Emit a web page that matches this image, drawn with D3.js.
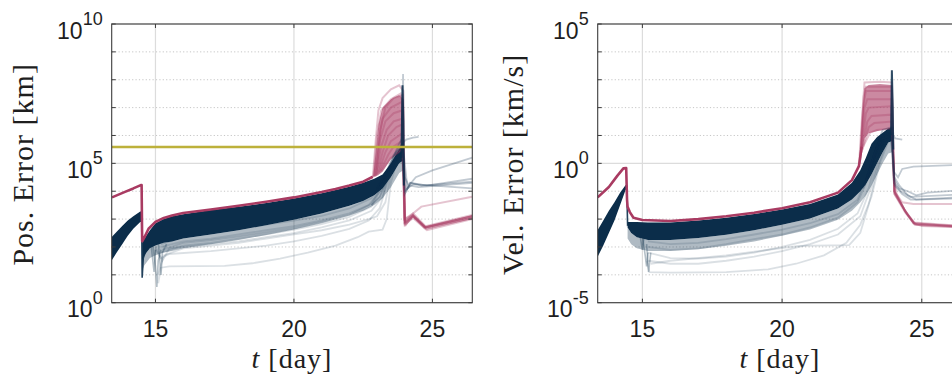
<!DOCTYPE html>
<html><head><meta charset="utf-8">
<script src="https://cdn.jsdelivr.net/npm/d3@7"></script>
<style>body{margin:0;background:#fff;overflow:hidden}svg{display:block}</style>
</head><body><svg id="c" width="952" height="375"></svg>
<script>
// ---------------- DATA ----------------
const xTicks = [15, 20, 25];
const posYTicks = [1, 1e5, 1e10];
const velYTicks = [1e-5, 1, 1e5];
const moonDistance = 3.844e5; // km, horizontal reference line

// ---- Position error panel ----
const posRed = [[13.43,6.0e3],[13.9,9.5e3],[14.2,1.26e4],[14.47,1.66e4],[14.5,1.66e4],[14.52,1.6e2],[14.6,2.2e2],[14.75,4.5e2],[15.0,7.9e2],[15.3,1.1e3],[15.6,1.35e3],[16,1.66e3],[17,2.2e3],[18,3.0e3],[19,4.2e3],[20,6.0e3],[21,9.3e3],[21.5,1.2e4],[22,1.6e4],[22.5,2.2e4],[22.85,3.3e4]];
const posRedSpikes = [
 [[22.85,3.3e4],[22.95,6.3e5],[23.05,7.9e6],[23.2,2.2e7],[23.5,4.5e7],[23.8,6.3e7],[23.95,4.0e7],[24.0,1.0e3],[24.05,6.3e2],[24.3,1.4e3],[24.75,5.0e2],[26.44,1.26e3]],
 [[22.87,3.3e4],[23.0,1.0e6],[23.15,7.9e6],[23.5,2.0e7],[23.85,3.2e7],[23.95,1.0e7],[24.0,7.9e2],[24.3,1.6e3],[24.6,2.8e3],[26.44,6.3e3]],
 [[22.9,3.4e4],[23.05,6.3e5],[23.2,4.0e6],[23.5,1.0e7],[23.9,1.6e7],[24.0,7.1e2],[24.3,1.26e3],[24.75,4.5e2],[26.44,1.1e3]],
 [[22.92,3.5e4],[23.1,6.3e5],[23.3,3.2e6],[23.6,6.3e6],[23.9,7.9e6],[24.0,7.9e2],[24.3,1.26e3],[24.75,5.0e2],[26.44,1.26e3]],
 [[22.95,3.6e4],[23.15,4.0e5],[23.35,1.6e6],[23.6,3.2e6],[23.92,4.0e6],[24.0,6.3e2],[24.3,1.1e3],[24.8,4.0e2],[26.44,1.0e3]],
 [[23.0,4.0e4],[23.2,2.5e5],[23.4,1.0e6],[23.7,2.0e6],[23.92,2.5e6],[24.0,1.0e3],[24.3,1.6e3],[24.75,5.6e2],[26.44,1.4e3]],
 [[23.05,4.3e4],[23.3,2.5e5],[23.5,6.3e5],[23.8,1.0e6],[23.93,1.26e6],[24.02,6.3e2],[24.3,1.26e3],[24.7,5.0e2],[26.44,1.26e3]],
 [[23.1,4.8e4],[23.4,2.0e5],[23.6,4.0e5],[23.9,6.3e5],[24.0,7.9e2],[24.3,1.4e3],[24.75,5.0e2],[26.44,1.1e3]],
 [[23.15,5.2e4],[23.5,1.6e5],[23.8,2.5e5],[23.95,3.2e5],[24.02,7.1e2],[24.3,1.26e3],[24.8,4.5e2],[26.44,1.1e3]],
 [[22.98,3.8e4],[23.12,1.6e6],[23.3,1.0e7],[23.6,2.2e7],[23.92,2.8e7],[23.98,1.0e3],[24.3,1.4e3],[24.75,5.2e2],[26.44,1.3e3]]
];
const posRedBandT  = [22.86,22.95,23.05,23.2,23.5,23.8,23.96];
const posRedBandHi = [3.3e4,2.5e5,2.5e6,1.0e7,2.0e7,2.8e7,2.0e7];
const posRedBandLo = [3.3e4,3.4e4,3.8e4,5.0e4,1.4e5,2.5e5,3.2e5];
const posNavySpikes = [
 [[22.9,7.9e3],[23.2,2.0e4],[23.5,1.0e5],[23.75,4.0e5],[23.9,7.9e5],[23.94,1.6e8],[23.97,1.0e5],[24.05,1.0e4],[24.2,2.0e4],[24.6,1.6e4],[26.44,2.2e4]],
 [[23.0,1.26e4],[23.3,4.0e4],[23.6,2.0e5],[23.9,5.0e5],[23.98,1.6e5],[24.1,1.26e4],[24.3,1.8e4],[26.44,1.26e4]],
 [[23.1,1.6e4],[23.4,6.3e4],[23.7,2.5e5],[23.93,4.0e5],[24.0,3.2e4],[24.15,1.6e4],[24.4,3.2e4],[25.0,5.6e4],[26.44,1.6e5]],
 [[23.2,2.0e4],[23.5,7.9e4],[23.8,3.2e5],[23.95,5.6e5],[24.05,7.1e5],[24.3,8.3e5],[24.5,8.9e5]],
 [[23.3,2.5e4],[23.6,1.0e5],[23.9,2.5e5],[24.0,1.0e4],[24.2,1.6e4],[24.5,1.4e4],[26.44,2.0e4]],
 [[22.8,3.2e3],[23.1,6.3e3],[23.4,3.2e4],[23.7,1.6e5],[23.9,3.2e5],[24.0,7.9e3],[24.2,2.0e4],[24.8,1.6e4],[26.44,2.8e4]]
];
const posNavyStreak = [[23.88,1.6e5],[23.92,6.3e7],[23.95,3.2e6],[23.97,1.6e4]];
const posLight = [
 [[15.1,5.0],[15.2,18],[15.5,20],[17.5,21],[18.5,26],[19.5,38],[20.5,63],[21.5,112],[22.3,224],[22.7,355],[23.2,417],[23.35,1.0e3],[23.5,2.0e4],[23.7,1.0e5],[23.9,2.0e5]],
 [[15.0,79],[15.2,40],[15.5,56],[17,71],[18,89],[19,112],[20,158],[21,251],[22,447],[22.7,891],[23.1,2.5e3],[23.4,2.5e4],[23.7,1.6e5]],
 [[15.0,100],[15.25,32],[15.5,89],[17,126],[18,158],[19,224],[20,316],[21,501],[22,891],[22.8,2.0e3],[23.2,6.3e3],[23.45,5.0e4],[23.8,2.5e5]],
 [[15.2,100],[16,158],[17,200],[18,282],[19,398],[20,562],[21,891],[22,1.6e3],[22.7,3.2e3],[23.2,1.26e4],[23.5,7.9e4],[23.85,3.2e5]],
 [[15.2,63],[16,112],[17,141],[18,200],[19,282],[20,417],[21,661],[22,1.2e3],[22.8,2.8e3],[23.3,2.5e4],[23.6,1.26e5]],
 [[15.1,10],[15.3,50],[16,89],[17,112],[18,141],[19,200],[20,282],[21,398],[22,631],[22.7,1.0e3],[23.0,1.26e3],[23.3,4.0e3],[23.5,4.0e4],[23.75,2.0e5]],
 [[15.2,126],[16,224],[17,316],[18,447],[19,631],[20,891],[21,1.3e3],[22,2.4e3],[22.8,5.6e3],[23.3,3.2e4],[23.7,1.6e5]],
 [[15.25,79],[16,141],[17,178],[18,240],[19,331],[20,479],[21,794],[22,1.4e3],[22.8,3.5e3],[23.35,4.0e4],[23.7,2.5e5]]
];
const posDips = [
 [[14.5,1.6e3],[14.52,7.9],[14.56,40],[14.7,100]],
 [[14.9,126],[15.0,20],[15.05,3.7],[15.1,32],[15.2,79]],
 [[15.1,158],[15.2,10],[15.25,63],[15.4,126]],
 [[14.85,100],[14.95,12.6],[15.0,79]]
];
const posCoreT  = [14.52,14.6,14.8,15.0,15.3,15.6,16,17,18,19,20,21,22,22.5,22.9,23.2,23.5,23.8,23.95];
const posCoreHi = [141,200,398,708,1.0e3,1.26e3,1.5e3,2.1e3,2.75e3,3.8e3,5.5e3,8.5e3,1.45e4,2.0e4,2.8e4,4.0e4,1.0e5,3.2e5,5.0e5];
const posCoreLo = [32,50,89,112,141,158,200,282,398,603,955,1.6e3,3.0e3,4.5e3,7.1e3,1.26e4,3.2e4,1.0e5,1.26e5];
const posHaloLo = [14,22,40,50,63,71,89,126,178,269,427,708,1.35e3,2.0e3,3.2e3,5.6e3,1.4e4,4.5e4,5.6e4];
const posPreT  = [13.43,13.6,13.8,14.0,14.2,14.45,14.5];
const posPreHi = [234,355,562,891,1.26e3,1.86e3,1.86e3];
const posPreLo = [34,63,126,251,447,794,794];

// ---- Velocity error panel ----
const velRed = [[13.4,0.060],[13.8,0.141],[14.1,0.355],[14.32,0.66],[14.42,0.676],[14.45,0.050],[14.47,0.0275],[14.55,0.0178],[14.68,0.0112],[15.0,9.3e-3],[16,8.5e-3],[17,0.01],[18,0.0126],[19,0.017],[20,0.0245],[21,0.04],[22,0.089],[22.5,0.25],[22.75,0.79],[22.85,4.0]];
const velRedSpikes = [
 [[22.75,0.79],[22.85,31.6],[22.95,794],[23.5,851],[23.93,794],[24.0,0.316],[24.1,0.079],[24.4,0.02],[24.72,7.1e-3],[25.0,5.6e-3],[26.6,5.0e-3]],
 [[22.78,1.0],[22.9,100],[23.0,398],[23.93,398],[24.02,0.1],[24.3,0.04],[24.7,0.035],[26.6,0.035]],
 [[22.8,1.58],[22.95,100],[23.05,200],[23.92,200],[24.02,0.079],[24.4,0.0178],[24.75,6.3e-3],[26.6,5.2e-3]],
 [[22.82,2.0],[23.0,63],[23.1,100],[23.9,112],[24.03,0.089],[24.45,0.0158],[24.75,6.6e-3],[26.6,5.6e-3]],
 [[22.85,2.5],[23.05,31.6],[23.2,50],[23.92,56],[24.02,0.1],[24.4,0.02],[24.7,7.1e-3],[26.6,5.0e-3]],
 [[22.88,3.16],[23.1,20],[23.3,28],[23.93,31.6],[24.03,0.079],[24.5,0.014],[24.8,6.3e-3],[26.6,5.0e-3]],
 [[22.9,4.0],[23.15,12.6],[23.4,15.8],[23.92,17.8],[24.02,0.1],[24.4,0.02],[24.72,7.1e-3],[26.6,5.2e-3]],
 [[22.8,1.26],[22.92,251],[23.0,562],[23.93,562],[24.02,0.089],[24.4,0.02],[24.72,7.6e-3],[26.6,5.5e-3]]
];
const velRedBandT  = [22.78,22.85,22.95,23.1,23.5,23.93];
const velRedBandHi = [1.0,30,500,650,700,650];
const velRedBandLo = [1.0,2.5,8,12,15,18];
const velNavySpikes = [
 [[22.9,0.126],[23.2,1.0],[23.45,6.3],[23.6,15.8],[23.92,20],[23.98,10],[24.05,7.9],[24.3,7.1]],
 [[23.0,0.2],[23.3,2.0],[23.55,10],[23.92,12.6],[24.0,0.5],[24.15,0.316],[24.3,0.63],[24.7,0.76],[26.6,0.91]],
 [[23.1,0.316],[23.4,3.16],[23.65,10],[23.93,11.2],[24.02,0.25],[24.2,0.126],[24.5,0.1],[24.8,0.071],[25.2,0.089],[26.6,0.112]],
 [[23.2,0.5],[23.5,4.0],[23.75,7.9],[23.95,8.9],[24.03,0.158],[24.3,0.079],[24.6,0.05],[24.8,0.05],[26.6,0.063]],
 [[22.95,0.158],[23.25,1.58],[23.5,7.1],[23.9,10],[24.0,0.2],[24.25,0.1],[24.6,0.063],[26.6,0.079]],
 [[23.3,1.0],[23.6,6.3],[23.9,7.9],[24.02,0.316],[24.2,0.158],[24.5,0.071],[24.8,0.05],[26.6,0.056]]
];
const velNavyStreak = [[23.9,10],[23.93,2.2e3],[23.96,100],[23.98,3.16]];
const velLight = [
 [[15.15,3.2e-4],[15.25,1.26e-4],[16,1.2e-4],[18,1.26e-4],[19.5,1.58e-4],[20.5,2.5e-4],[21.5,5.0e-4],[22.3,1.4e-3],[22.8,6.3e-3],[23.2,0.063],[23.5,1.0],[23.8,6.3]],
 [[15.2,6.3e-4],[16,4.0e-4],[17,3.8e-4],[18,4.5e-4],[19,6.3e-4],[20,1.0e-3],[21,1.8e-3],[22,4.5e-3],[22.7,0.0158],[23.1,0.126],[23.4,2.0],[23.7,7.9]],
 [[15.3,2.5e-4],[16,3.2e-4],[18,5.0e-4],[19.5,7.9e-4],[20.6,1.1e-3],[22.4,1.17e-3],[22.8,3.2e-3],[23.1,0.032],[23.4,0.63],[23.7,5.0]],
 [[15.2,1.0e-3],[16,7.9e-4],[17,8.9e-4],[18,1.26e-3],[19,1.9e-3],[20,2.8e-3],[21,5.0e-3],[22,0.0112],[22.7,0.04],[23.1,0.316],[23.4,3.16],[23.8,10]],
 [[15.2,1.58e-3],[16,1.26e-3],[17,1.4e-3],[18,1.9e-3],[19,2.8e-3],[20,4.2e-3],[21,7.1e-3],[22,0.015],[22.7,0.05],[23.1,0.5],[23.5,5.0]],
 [[15.2,3.2e-4],[16,2.5e-4],[17,2.5e-4],[18,3.2e-4],[19,4.5e-4],[20,7.1e-4],[21,1.26e-3],[22,2.8e-3],[22.8,0.0126],[23.2,0.158],[23.5,2.5],[23.8,7.9]]
];
const velDips = [
 [[14.44,0.158],[14.47,6.3e-3],[14.55,7.1e-3]],
 [[15.0,2.5e-3],[15.1,5.0e-4],[15.15,2.0e-4],[15.2,6.3e-4]],
 [[14.9,3.2e-3],[15.0,7.9e-4],[15.05,2.0e-3]],
 [[15.15,1.26e-3],[15.22,1.26e-4],[15.3,6.3e-4]]
];
const velCoreT  = [14.47,14.6,14.8,15.2,16,17,18,19,20,21,22,22.5,22.8,23.0,23.2,23.4,23.6,23.8,23.95];
const velCoreHi = [7.9e-3,7.9e-3,7.9e-3,7.6e-3,7.6e-3,8.9e-3,0.0112,0.0151,0.0219,0.0347,0.0759,0.2,0.562,1.58,5.0,8.9,12.6,17.8,20];
const velCoreLo = [5.0e-3,3.2e-3,2.24e-3,1.78e-3,1.78e-3,2.1e-3,2.75e-3,4.0e-3,6.3e-3,0.0105,0.024,0.05,0.1,0.178,0.4,1.0,2.5,5.6,6.3];
const velHaloLo = [2.0e-3,1.26e-3,8.9e-4,7.1e-4,7.1e-4,8.3e-4,1.1e-3,1.58e-3,2.5e-3,4.2e-3,9.5e-3,0.02,0.04,0.071,0.158,0.4,1.0,2.24,2.5];
const velPreT  = [13.4,13.6,13.8,14.0,14.2,14.4,14.46];
const velPreHi = [4.1e-3,8.9e-3,0.02,0.04,0.089,0.166,0.166];
const velPreLo = [4.5e-4,1.12e-3,3.2e-3,8.9e-3,0.0316,0.112,0.112];

// ---------------- STYLE ----------------
const NAVY = "#0b2d4a", RED = "#a93b62", YEL = "#bdb13b";
const svg = d3.select("#c");
const defs = svg.append("defs");

function drawPanel(p, idx) {
  const x = d3.scaleLinear().domain(p.xDom).range([p.x0, p.x0 + p.w]);
  const y = d3.scaleLog().domain(p.yDom).range([p.y1, p.y0]);
  const g = svg.append("g");
  const clipId = "clip" + idx;
  defs.append("clipPath").attr("id", clipId).append("rect")
    .attr("x", p.x0).attr("y", p.y0).attr("width", p.w).attr("height", p.y1 - p.y0);

  const e0 = Math.round(Math.log10(p.yDom[0])), e1 = Math.round(Math.log10(p.yDom[1]));
  const decades = d3.range(e0, e1 + 1).map(e => Math.pow(10, e));
  const majorSet = new Set(p.yTicks.map(v => Math.round(Math.log10(v))));
  const grid = g.append("g");
  decades.forEach(v => {
    const major = majorSet.has(Math.round(Math.log10(v)));
    grid.append("line").attr("x1", p.x0).attr("x2", p.x0 + p.w)
      .attr("y1", y(v)).attr("y2", y(v))
      .attr("stroke", major ? "#dcdcdc" : "#c6c6c6")
      .attr("stroke-width", major ? 1.2 : 1)
      .attr("stroke-dasharray", major ? null : "1.2,2.2");
  });
  xTicks.forEach(t => {
    grid.append("line").attr("x1", x(t)).attr("x2", x(t)).attr("y1", p.y0).attr("y2", p.y1)
      .attr("stroke", "#dcdcdc").attr("stroke-width", 1.2);
  });

  const data = g.append("g").attr("clip-path", `url(#${clipId})`);
  const line = d3.line().x(d => x(d[0])).y(d => y(d[1]));
  const band = (T, lo, hi) => d3.area().x((d, i) => x(T[i])).y0((d, i) => y(lo[i])).y1((d, i) => y(hi[i]))(T);

  data.append("path").attr("d", band(p.coreT, p.haloLo, p.coreLo)).attr("fill", NAVY).attr("opacity", 0.33);
  p.light.forEach(s => data.append("path").attr("d", line(s)).attr("fill", "none")
      .attr("stroke", NAVY).attr("stroke-width", 1.8).attr("stroke-opacity", 0.15));
  p.dips.forEach((s, i) => data.append("path").attr("d", line(s)).attr("fill", "none")
      .attr("stroke", NAVY).attr("stroke-width", 1.6).attr("stroke-opacity", i === 0 ? 0.9 : 0.3));
  data.append("path").attr("d", band(p.coreT, p.coreLo, p.coreHi)).attr("fill", NAVY);
  data.append("path").attr("d", band(p.preT, p.preLo, p.preHi)).attr("fill", NAVY);
  // red spike bundle
  data.append("path").attr("d", band(p.redBandT, p.redBandLo, p.redBandHi)).attr("fill", RED).attr("opacity", 0.6);
  p.redSpikes.forEach(s => data.append("path").attr("d", line(s)).attr("fill", "none")
      .attr("stroke", RED).attr("stroke-width", 2).attr("stroke-opacity", 0.3));
  // navy spike bundle
  p.navySpikes.forEach(s => data.append("path").attr("d", line(s)).attr("fill", "none")
      .attr("stroke", NAVY).attr("stroke-width", 1.8).attr("stroke-opacity", 0.25));
  data.append("path").attr("d", line(p.streak)).attr("fill", "none")
      .attr("stroke", NAVY).attr("stroke-width", 2).attr("stroke-opacity", 0.85);
  data.append("path").attr("d", line(p.red)).attr("fill", "none")
      .attr("stroke", RED).attr("stroke-width", 2.6).attr("stroke-linejoin", "round");
  if (p.hline) {
    data.append("line").attr("x1", p.x0).attr("x2", p.x0 + p.w)
      .attr("y1", y(p.hline)).attr("y2", y(p.hline))
      .attr("stroke", YEL).attr("stroke-width", 2.6);
  }

  const ax = g.append("g").attr("stroke", "#3c3c3c").attr("fill", "none");
  ax.append("rect").attr("x", p.x0).attr("y", p.y0).attr("width", p.w).attr("height", p.y1 - p.y0)
    .attr("stroke-width", 1.1);
  decades.forEach(v => {
    ax.append("line").attr("x1", p.x0).attr("x2", p.x0 + 4).attr("y1", y(v)).attr("y2", y(v));
    ax.append("line").attr("x1", p.x0 + p.w).attr("x2", p.x0 + p.w - 4).attr("y1", y(v)).attr("y2", y(v));
  });
  xTicks.forEach(t => {
    ax.append("line").attr("x1", x(t)).attr("x2", x(t)).attr("y1", p.y1).attr("y2", p.y1 - 4);
    ax.append("line").attr("x1", x(t)).attr("x2", x(t)).attr("y1", p.y0).attr("y2", p.y0 + 4);
  });

  const lab = g.append("g").attr("font-family", "'Liberation Sans', Arial, sans-serif").attr("fill", "#1e1e1e");
  xTicks.forEach(t => lab.append("text").attr("x", x(t)).attr("y", 337)
      .attr("text-anchor", "middle").attr("font-size", 23).text(t));
  p.yTicks.forEach(v => {
    const e = Math.round(Math.log10(v));
    const tx = lab.append("text").attr("x", p.x0 - 9).attr("y", y(v) + 14.5)
      .attr("text-anchor", "end").attr("font-size", 23);
    tx.append("tspan").text("10");
    tx.append("tspan").attr("dy", -13.5).attr("font-size", 18).text(String(e));
  });

  g.append("text").attr("transform", `translate(${p.labX},${(p.y0 + p.y1) / 2 + 1}) rotate(-90)`)
    .attr("text-anchor", "middle").attr("font-family", "'Liberation Serif', 'DejaVu Serif', serif")
    .attr("font-size", 30).attr("letter-spacing", 1).attr("fill", "#1e1e1e").text(p.yLabel);
  const xl = g.append("text").attr("x", p.x0 + p.w / 2).attr("y", 368)
    .attr("text-anchor", "middle").attr("font-family", "'Liberation Serif', 'DejaVu Serif', serif")
    .attr("font-size", 28).attr("letter-spacing", 1).attr("fill", "#1e1e1e");
  xl.append("tspan").attr("font-style", "italic").text("t");
  xl.append("tspan").text(" [day]");
}

drawPanel({
  x0: 111.7, w: 360.6, y0: 24, y1: 302.7, xDom: [13.42, 26.44], yDom: [1, 1e10],
  yTicks: posYTicks, yLabel: "Pos. Error [km]", labX: 33,
  red: posRed, redSpikes: posRedSpikes, redBandT: posRedBandT, redBandHi: posRedBandHi, redBandLo: posRedBandLo,
  navySpikes: posNavySpikes, streak: posNavyStreak,
  light: posLight, dips: posDips, coreT: posCoreT, coreHi: posCoreHi, coreLo: posCoreLo, haloLo: posHaloLo,
  preT: posPreT, preHi: posPreHi, preLo: posPreLo, hline: moonDistance
}, 0);
drawPanel({
  x0: 597.7, w: 364.3, y0: 24, y1: 302.7, xDom: [13.4, 26.44], yDom: [1e-5, 1e5],
  yTicks: velYTicks, yLabel: "Vel. Error [km/s]", labX: 523,
  red: velRed, redSpikes: velRedSpikes, redBandT: velRedBandT, redBandHi: velRedBandHi, redBandLo: velRedBandLo,
  navySpikes: velNavySpikes, streak: velNavyStreak,
  light: velLight, dips: velDips, coreT: velCoreT, coreHi: velCoreHi, coreLo: velCoreLo, haloLo: velHaloLo,
  preT: velPreT, preHi: velPreHi, preLo: velPreLo, hline: null
}, 1);
</script>
</body></html>
